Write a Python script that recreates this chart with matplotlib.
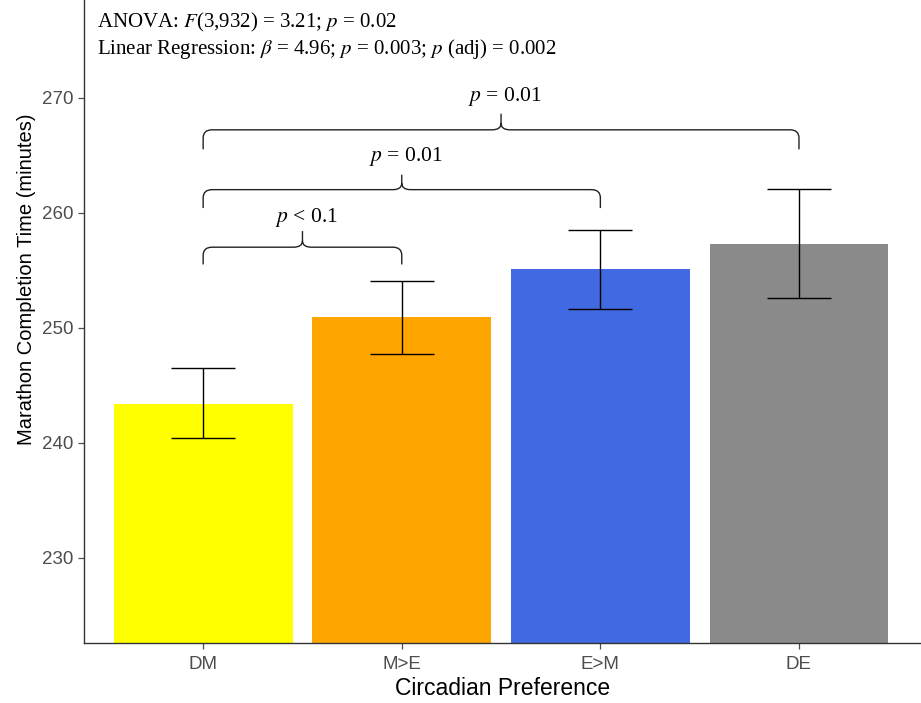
"""Marathon completion time by circadian preference (bar + SE + brackets)."""

import matplotlib

matplotlib.use("Agg")
import matplotlib.pyplot as plt
from matplotlib.patches import PathPatch
from matplotlib.path import Path

categories = ["DM", "M>E", "E>M", "DE"]
means = [243.4, 250.9, 255.1, 257.3]
err_low = [240.4, 247.7, 251.6, 252.6]
err_high = [246.5, 254.1, 258.5, 262.1]
colors = ["#FFFF00", "#FFA500", "#4169E1", "#8B8A8A"]

# pairwise comparisons: (from idx, to idx, foot y, bar y, tip y, label y, label)
comparisons = [
    (0, 1, 255.5, 257.0, 258.4, 259.6, r"$p$ < 0.1"),
    (0, 2, 260.4, 262.0, 263.3, 264.9, r"$p$ = 0.01"),
    (0, 3, 265.5, 267.2, 268.6, 270.1, r"$p$ = 0.01"),
]
stats_lines = [
    r"ANOVA: $F$(3,932) = 3.21; $p$ = 0.02",
    r"Linear Regression: $\beta$ = 4.96; $p$ = 0.003; $p$ (adj) = 0.002",
]

plt.rcParams["mathtext.fontset"] = "stix"
plt.rcParams["font.family"] = ["Liberation Sans", "DejaVu Sans"]

fig = plt.figure(figsize=(9.21, 7.03), dpi=100)
ax = fig.add_axes([0.0912, 0.0853, 0.91, 0.915])

x = list(range(1, len(categories) + 1))
ax.bar(x, means, width=0.9, color=colors, zorder=1)
yerr = [[m - lo for m, lo in zip(means, err_low)], [hi - m for m, hi in zip(means, err_high)]]
ax.errorbar(x, means, yerr=yerr, fmt="none", ecolor="black", elinewidth=1.0,
            capsize=23, capthick=1.0, zorder=3)


def brace(ax, x1, x2, yfoot, ybar, ytip, rx=0.045, ry=0.7):
    xm = (x1 + x2) / 2
    verts = [
        (x1, yfoot), (x1, ybar - ry), (x1, ybar), (x1 + rx, ybar),
        (xm - rx, ybar), (xm, ybar), (xm, ybar + ry * 0.8), (xm, ytip),
        (xm, ybar + ry * 0.8), (xm, ybar), (xm + rx, ybar),
        (x2 - rx, ybar), (x2, ybar), (x2, ybar - ry), (x2, yfoot),
    ]
    codes = [
        Path.MOVETO, Path.LINETO, Path.CURVE3, Path.CURVE3,
        Path.LINETO, Path.CURVE3, Path.CURVE3, Path.LINETO,
        Path.MOVETO, Path.CURVE3, Path.CURVE3,
        Path.LINETO, Path.CURVE3, Path.CURVE3, Path.LINETO,
    ]
    ax.add_patch(PathPatch(Path(verts, codes), fill=False, lw=1.0,
                           edgecolor="#222222", zorder=4))


serif = ["Liberation Serif", "DejaVu Serif"]
for i, j, yf, yb, yt, yl, lab in comparisons:
    brace(ax, x[i], x[j], yf, yb, yt)
    ax.text((x[i] + x[j]) / 2 + 0.02, yl, lab, ha="center", va="center", fontsize=15.5,
            family=serif, zorder=5)

for k, line in enumerate(stats_lines):
    ax.text(0.465, 276.5 - 2.3 * k, line, ha="left", va="center", fontsize=15,
            family=serif)

ax.set_xlim(0.4, 4.62)
ax.set_ylim(222.6, 278.5)
ax.set_xticks(x)
ax.set_xticklabels(categories)
ax.set_yticks([230, 240, 250, 260, 270])
ax.tick_params(axis="both", colors="#4D4D4D", labelsize=13.5, length=4, width=0.9)
ax.tick_params(axis="x", pad=5)
for s in ["top", "right"]:
    ax.spines[s].set_visible(False)
for s in ["left", "bottom"]:
    ax.spines[s].set_color("#333333")
    ax.spines[s].set_linewidth(1.0)

ax.set_xlabel("Circadian Preference", fontsize=16.5, labelpad=3)
ax.set_ylabel("Marathon Completion Time (minutes)", fontsize=14.5)
ax.yaxis.set_label_coords(-0.057, 0.565)

fig.savefig("out.png", dpi=100)
